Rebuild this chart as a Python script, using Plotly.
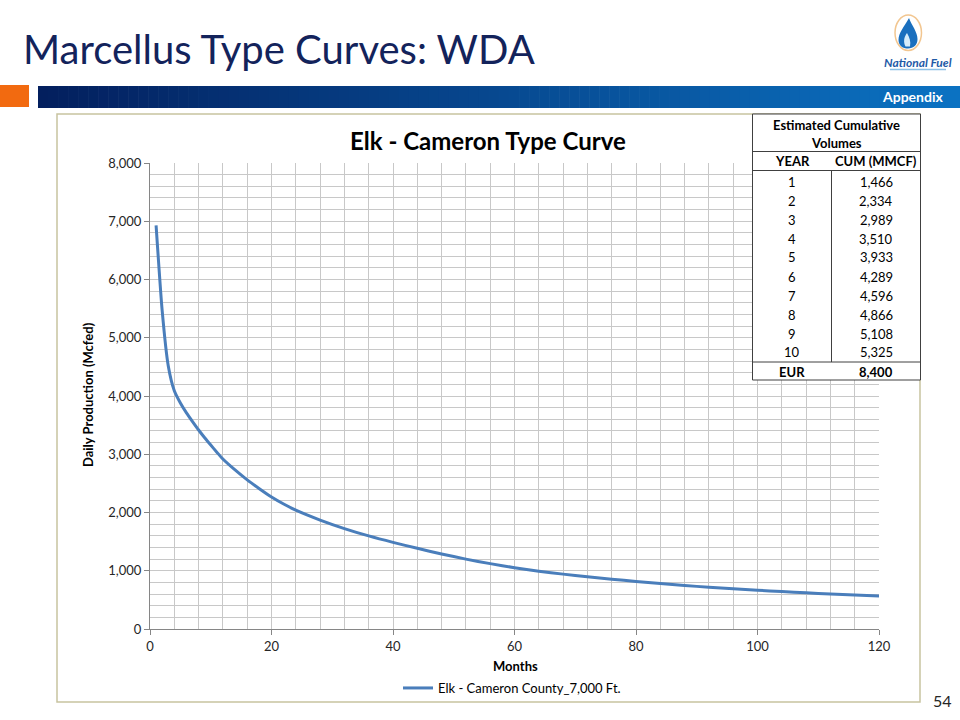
import plotly.graph_objects as go

# ---------------- data ----------------
months = [1, 2, 3, 4, 5, 6, 7, 8, 9, 10, 11, 12, 14, 16, 18, 20, 22, 24, 28, 32, 36, 40,
          44, 48, 52, 56, 60, 64, 68, 72, 76, 80, 84, 88, 92, 96, 100, 104, 108, 112,
          116, 120]
rate = [6930, 5470, 4520, 4090, 3880, 3710, 3560, 3416, 3283, 3158, 3036, 2918, 2730,
        2560, 2408, 2265, 2145, 2040, 1870, 1724, 1598, 1487, 1385, 1288, 1200, 1122,
        1053, 993, 942, 897, 855, 816, 780, 747, 717, 690, 665, 642, 621, 601, 583, 566]
series_name = "Elk - Cameron County_7,000 Ft."

table_years = ["1", "2", "3", "4", "5", "6", "7", "8", "9", "10"]
table_cum = ["1,466", "2,334", "2,989", "3,510", "3,933", "4,289", "4,596", "4,866",
             "5,108", "5,325"]
eur_value = "8,400"

W, H = 960, 720
FONT = "Lato"


def px(x):
    return x / W


def py(y):
    return 1 - y / H


fig = go.Figure()
fig.add_trace(go.Scatter(
    x=months, y=rate, mode="lines", name=series_name,
    line=dict(color="#4A7EBB", width=3, shape="spline", smoothing=0.6),
    hoverinfo="x+y"))

shapes = []
annotations = []

# header orange square + gradient bar
shapes.append(dict(type="rect", xref="paper", yref="paper", x0=px(0), x1=px(29),
                   y0=py(107), y1=py(85), fillcolor="#F26A10", line=dict(width=0),
                   layer="above"))
c0 = (3, 31, 94)
c1 = (11, 114, 194)
x_start, x_end = 38, 960
nseg = 92
segw = (x_end - x_start) / nseg
for i in range(nseg):
    t = i / (nseg - 1)
    col = tuple(int(round(c0[k] + (c1[k] - c0[k]) * t)) for k in range(3))
    shapes.append(dict(type="rect", xref="paper", yref="paper",
                       x0=px(x_start + i * segw), x1=px(x_start + (i + 1) * segw + 0.6),
                       y0=py(108), y1=py(86), fillcolor="rgb(%d,%d,%d)" % col,
                       line=dict(width=0), layer="above"))

# chart box border
shapes.append(dict(type="rect", xref="paper", yref="paper", x0=px(57), x1=px(920),
                   y0=py(702), y1=py(114), line=dict(color="#C8C3A0", width=1.5),
                   fillcolor="rgba(0,0,0,0)", layer="below"))

# table
tx0, tx1, tmid = 752.5, 920.5, 831.5
ty_top, ty_head, ty_col, ty_eur, ty_bot = 114, 151.5, 170.5, 362, 380
shapes.append(dict(type="rect", xref="paper", yref="paper", x0=px(tx0), x1=px(tx1),
                   y0=py(ty_bot), y1=py(ty_top), fillcolor="white",
                   line=dict(color="#404040", width=1), layer="above"))
for yy in (ty_head, ty_col, ty_eur):
    shapes.append(dict(type="line", xref="paper", yref="paper", x0=px(tx0), x1=px(tx1),
                       y0=py(yy), y1=py(yy), line=dict(color="#404040", width=1),
                       layer="above"))
shapes.append(dict(type="line", xref="paper", yref="paper", x0=px(tmid), x1=px(tmid),
                   y0=py(ty_col), y1=py(ty_eur), line=dict(color="#404040", width=1),
                   layer="above"))


def P(x, y):
    return "%.5f,%.5f" % (px(x), py(y))


# logo: ring + flame
shapes.append(dict(type="circle", xref="paper", yref="paper", x0=px(895), x1=px(921.5),
                   y0=py(50.5), y1=py(15), fillcolor="white",
                   line=dict(color="#F2C690", width=1.5), layer="above"))
flame = ("M " + P(909, 18) + " C " + P(904, 27) + " " + P(898.5, 33) + " " + P(898.5, 40)
         + " C " + P(898.5, 46) + " " + P(903, 48.5) + " " + P(908, 48.5)
         + " C " + P(913.5, 48.5) + " " + P(917.5, 45) + " " + P(917.5, 39)
         + " C " + P(917.5, 32) + " " + P(912, 26) + " " + P(909, 18) + " Z")
shapes.append(dict(type="path", xref="paper", yref="paper", path=flame,
                   fillcolor="#1A6FBE", line=dict(width=0), layer="above"))
inner = ("M " + P(907, 33) + " C " + P(904, 37) + " " + P(903, 42) + " " + P(905.5, 46.5)
         + " L " + P(910, 46.5) + " C " + P(911, 42) + " " + P(909.5, 37) + " " + P(907, 33) + " Z")
shapes.append(dict(type="path", xref="paper", yref="paper", path=inner,
                   fillcolor="#D6ECFA", line=dict(width=0), layer="above"))
shapes.append(dict(type="line", xref="paper", yref="paper", x0=px(890), x1=px(946),
                   y0=py(69.5), y1=py(69.5), line=dict(color="#8CC0E6", width=1.5),
                   layer="above"))


def ann(x, y, text, size=13, color="#000000", bold=False, xanchor="center",
        yanchor="middle", angle=0, family=FONT):
    if bold:
        text = "<b>" + text + "</b>"
    annotations.append(dict(x=px(x), y=py(y), xref="paper", yref="paper", text=text,
                            showarrow=False, xanchor=xanchor, yanchor=yanchor,
                            textangle=angle,
                            font=dict(size=size, color=color, family=family)))


# page texts
ann(21, 49, "Marcellus Type Curves: WDA", size=40, color="#13235B", xanchor="left")
ann(945, 97, "Appendix", size=14, color="white", bold=True, xanchor="right")
ann(918, 62, "<i>National Fuel</i>", size=12, color="#1F5AA6", bold=True)
ann(942, 700, "54", size=16, color="#262626")

# chart texts
ann(488, 141, "Elk - Cameron Type Curve", size=24, color="#000000", bold=True)
ann(88, 395, "Daily Production (Mcfed)", size=13, bold=True, angle=-90)
ann(515, 666, "Months", size=13, bold=True)

# table texts
ann(836, 125, "Estimated Cumulative", size=13, bold=True)
ann(836, 143, "Volumes", size=13, bold=True)
ann(792, 161, "YEAR", size=13, bold=True)
ann(876, 161, "CUM (MMCF)", size=13, bold=True)
for i, (yr, cv) in enumerate(zip(table_years, table_cum)):
    yc = 181.5 + 19.0 * i
    ann(792, yc, yr, size=13)
    ann(876, yc, cv, size=13)
ann(792, 371.5, "EUR", size=13, bold=True)
ann(876, 371.5, eur_value, size=13, bold=True)

GRID = "#C8C8C8"
axis_common = dict(showline=True, linecolor="#868686", linewidth=1,
                   ticks="outside", ticklen=5, tickcolor="#868686",
                   showgrid=True, gridcolor=GRID, gridwidth=1,
                   zeroline=False, automargin=False,
                   tickfont=dict(size=13, color="#262626", family=FONT))

fig.update_layout(
    width=W, height=H,
    margin=dict(l=0, r=0, t=0, b=0),
    paper_bgcolor="white", plot_bgcolor="white",
    template="none",
    font=dict(family=FONT),
    showlegend=True,
    legend=dict(x=px(512), y=py(688), xanchor="center", yanchor="middle",
                orientation="h", bgcolor="rgba(0,0,0,0)",
                font=dict(size=13, color="#000000", family=FONT), itemwidth=30),
    xaxis=dict(domain=[px(150), px(879)], range=[0, 120], tick0=0, dtick=20,
               minor=dict(dtick=4, showgrid=True, gridcolor=GRID, ticks=""),
               **axis_common),
    yaxis=dict(domain=[py(629), py(163)], range=[0, 8000], tick0=0, dtick=1000,
               tickformat=",d",
               minor=dict(dtick=200, showgrid=True, gridcolor=GRID, ticks=""),
               **axis_common),
    shapes=shapes,
    annotations=annotations,
)

fig.write_html("out.html", config={"displayModeBar": False},
               post_script="document.body.style.margin='0';document.body.style.overflow='hidden';")
